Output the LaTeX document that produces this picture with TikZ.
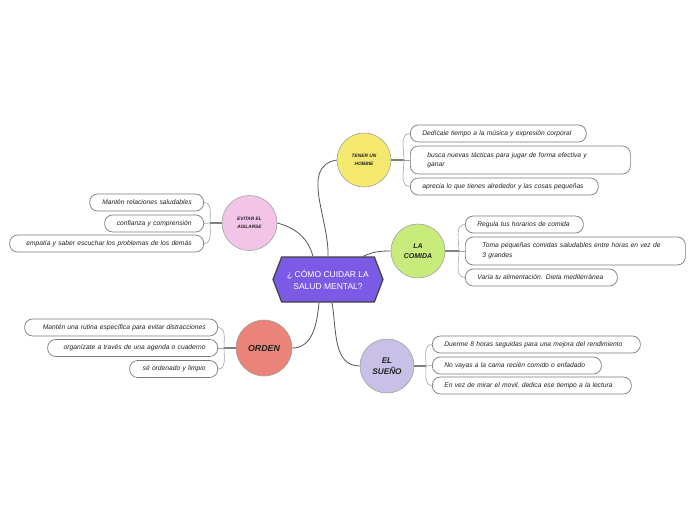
\documentclass[tikz,border=0pt]{standalone}
\usepackage{fontspec}
\setmainfont{Liberation Sans}
\usetikzlibrary{shapes.symbols}
\definecolor{hexc}{HTML}{7B5BE6}
\definecolor{hobc}{HTML}{F5E86E}
\definecolor{comc}{HTML}{C8EC7B}
\definecolor{suec}{HTML}{C8C0E6}
\definecolor{ordc}{HTML}{EB8478}
\definecolor{evic}{HTML}{F2C4E8}
\definecolor{linec}{HTML}{555555}
\definecolor{boxc}{HTML}{7A7A7A}
\definecolor{txtc}{HTML}{222222}
\begin{document}
\begin{tikzpicture}[x=1pt,y=-1pt,
  leaf/.style={draw=boxc, line width=0.7pt, rounded corners=8pt, fill=white, inner xsep=12pt, inner ysep=0pt,
    minimum height=17pt, align=left, font=\fontsize{6.7}{9.5}\selectfont\itshape, text=txtc},
  topic/.style={circle, draw=boxc!70, line width=0.6pt, minimum size=#1, inner sep=0pt, align=center, text=txtc},
  conn/.style={draw=linec, line width=0.8pt},
  stem/.style={draw=gray, line width=1.6pt},
  twig/.style={draw=boxc!70, line width=0.6pt}]
\useasboundingbox (0,0) rectangle (696,520);
\fill[white] (0,0) rectangle (696,520);

% central
\node[signal, signal to=west and east, signal pointer angle=138, draw=black!75, line width=1.2pt, fill=hexc,
  minimum width=110pt, minimum height=45pt, inner sep=0pt, align=center, text=white,
  font=\fontsize{8.5}{12}\selectfont] (c) at (328,279.5) {¿ CÓMO CUIDAR LA\\SALUD MENTAL?};

% topics
\node[topic=54pt, fill=hobc, font=\fontsize{4.8}{8}\selectfont\bfseries\itshape] (hob) at (364,160) {TENER UN\\HOBBIE};
\node[topic=54pt, fill=comc, font=\fontsize{7}{10}\selectfont\bfseries\itshape] (com) at (418,251) {LA\\COMIDA};
\node[topic=54pt, fill=suec, font=\fontsize{8.2}{11}\selectfont\bfseries\itshape] (sue) at (387,366) {EL\\SUEÑO};
\node[topic=56pt, fill=ordc, font=\fontsize{8.8}{10}\selectfont\bfseries\itshape] (ord) at (264,348) {ORDEN};
\node[topic=55pt, fill=evic, font=\fontsize{4.8}{8}\selectfont\bfseries\itshape] (evi) at (249.5,223) {EVITAR EL\\AISLARSE};

% central connectors
\draw[conn] (c.north) to[out=88,in=190] (hob.west);
\draw[conn] ([xshift=-15pt]c.north) to[out=105,in=-15] (evi.east);
\draw[conn] ([xshift=35pt]c.north) to[out=25,in=180] (com.west);
\draw[conn] ([xshift=-9pt]c.south) to[out=-95,in=0] (ord.east);
\draw[conn] ([xshift=4pt]c.south) to[out=-80,in=180] (sue.west);

% hobbie leaves
\node[leaf, anchor=west, text width=152pt] (h1) at (410,133.5) {Dedícale tiempo a la música y expresión corporal};
\node[leaf, anchor=west, text width=186pt, minimum height=28pt, inner xsep=17pt] (h2) at (410,160) {busca nuevas tácticas para jugar de forma efectiva y\\ganar};
\node[leaf, anchor=west, text width=164pt] (h3) at (410,186.5) {aprecia lo que tienes alrededor y las cosas pequeñas};
\coordinate (jh) at (404,160);
\draw[stem] (hob.east) -- (jh);
\draw[twig] (jh) to[out=90,in=180] (h1.west);
\draw[twig] (jh) -- (h2.west);
\draw[twig] (jh) to[out=-90,in=180] (h3.west);

% comida leaves
\node[leaf, anchor=west, text width=94pt] (c1) at (465,224.5) {Regula tus horarios de comida};
\node[leaf, anchor=west, text width=186pt, minimum height=28pt, inner xsep=17pt] (c2) at (465,251) {Toma pequeñas comidas saludables entre horas en vez de\\3 grandes};
\node[leaf, anchor=west, text width=128pt] (c3) at (465,277.5) {Varía tu alimentación. Dieta mediterránea};
\coordinate (jc) at (459,251);
\draw[stem] (com.east) -- (jc);
\draw[twig] (jc) to[out=90,in=180] (c1.west);
\draw[twig] (jc) -- (c2.west);
\draw[twig] (jc) to[out=-90,in=180] (c3.west);

% sueño leaves
\node[leaf, anchor=west, text width=184pt] (s1) at (432,344.5) {Duerme 8 horas seguidas para una mejora del rendimiento};
\node[leaf, anchor=west, text width=145pt] (s2) at (432,365.5) {No vayas a la cama recién comido o enfadado};
\node[leaf, anchor=west, text width=175pt] (s3) at (432,385.5) {En vez de mirar el movil, dedica ese tiempo a la lectura};
\coordinate (js) at (426,366);
\draw[stem] (sue.east) -- (js);
\draw[twig] (js) to[out=90,in=180] (s1.west);
\draw[twig] (js) -- (s2.west);
\draw[twig] (js) to[out=-90,in=180] (s3.west);

% evitar leaves
\node[leaf, anchor=east, text width=90pt, align=right] (e1) at (204,202.5) {Mantén relaciones saludables};
\node[leaf, anchor=east, text width=75pt, align=right] (e2) at (204,223.5) {confianza y comprensión};
\node[leaf, anchor=east, text width=170pt, align=right] (e3) at (204,243.5) {empatía y saber escuchar los problemas de los demás};
\coordinate (je) at (210,223);
\draw[stem] (evi.west) -- (je);
\draw[twig] (je) to[out=90,in=0] (e1.east);
\draw[twig] (je) -- (e2.east);
\draw[twig] (je) to[out=-90,in=0] (e3.east);

% orden leaves
\node[leaf, anchor=east, text width=169pt, align=right] (o1) at (218,327.5) {Mantén una rutina específica para evitar distracciones};
\node[leaf, anchor=east, text width=146pt, align=right] (o2) at (218,348) {organízate a través de una agenda o cuaderno};
\node[leaf, anchor=east, text width=64pt, align=right] (o3) at (218,369) {sé ordenado y limpio};
\coordinate (jo) at (224,348);
\draw[stem] (ord.west) -- (jo);
\draw[twig] (jo) to[out=90,in=0] (o1.east);
\draw[twig] (jo) -- (o2.east);
\draw[twig] (jo) to[out=-90,in=0] (o3.east);
\end{tikzpicture}
\end{document}
